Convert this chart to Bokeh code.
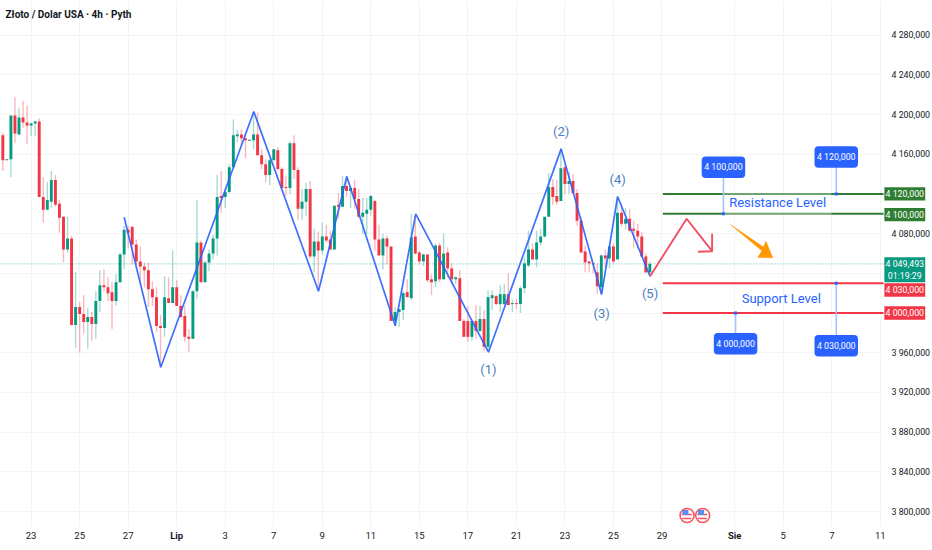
from bokeh.plotting import figure
from bokeh.models import FixedTicker, Label, Range1d, LinearAxis
from bokeh.core.properties import value
from bokeh.embed import file_html
from bokeh.resources import INLINE
import numpy as np

FONT = "Roboto"
BLUE = "#2962ff"; RED = "#f23645"; TEAL = "#089981"; DGREEN = "#2e7d32"; TXT = "#131722"; WAVE = "#4a80c4"

opens = [4179,4154,4155,4199,4180,4197,4192,4189,4191,4193,
 4117,4104,4112,4134,4110,4097,4064,4075,3988,4006,
 3999,3991,3996,3989,4012,4028,4026,4021,4012,4031,
 4059,4084,4087,4069,4052,4047,4043,4024,4016,3987,
 3985,4015,4010,4026,4007,3997,3976,3974,4022,4071,
 4031,4051,4060,4075,4118,4117,4122,4147,4178,4180,
 4176,4173.5,4174,4180,4159,4150,4139,4154,4164,4145,
 4127,4126,4171,4144,4105,4112,4125,4057,4072,4063,
 4077,4074,4064,4109,4107,4128,4123,4126,4115,4097,
 4100,4104,4113,4074,4058,4075,4067,3992,4001,4003,
 4021,4015,4077,4061,4052,4059,4034,4032,4068,4034,
 4061,4045,4034,4035,3992,3992,3976,3992,3982,3994,
 3966,4015,4017,4009,4009,4019,4009,4010,4009,4025,
 4048,4064,4054,4071,4077,4097,4127,4118,4113,4147,
 4130,4133,4121,4093,4062,4052,4050,4041,4026,4058,
 4055,4067,4054,4101,4090,4095,4085,4083,4077,4057,
 4041]
closes = [4154,4155,4199,4181,4197,4192,4189,4191,4193,4117,
 4104,4114,4134,4109,4096,4064,4075,3988,4006,3999,
 3991,3996,3989,4012,4028,4026,4020,4012,4031,4059,
 4084,4081,4069,4052,4047,4043,4024,4016,3987,3985,
 4016,4010,4026,4007,3996,3976,3974,4022,4071,4031,
 4051,4060,4075,4117,4116,4122,4147,4179,4180,4176,
 4174,4174.5,4180,4159,4150,4139,4154,4165,4145,4126,
 4126,4171,4144,4105,4112,4125,4057,4072,4063,4077,
 4073,4064,4108,4107,4128,4123,4126,4115,4097,4101,
 4104,4118,4074,4058,4075,4067,3992,4001,4004,4020,
 4016,4076,4060,4052,4059,4033,4031,4068,4034,4060,
 4045,4034,4036,3992,3976,3976,3992,3982,3994,3966,
 4016,4018,4009,4019,4019,4008,4010,4009,4025,4050,
 4064,4054,4071,4077,4097,4127,4117,4112,4146,4130,
 4133,4121,4093,4061,4051,4050,4049,4027,4058,4055,
 4067,4052,4101,4090,4095,4083,4083,4077,4057,4041,
 4049.493]
highs = [4182,4155,4199,4218,4206,4214,4209,4192,4194,4196,
 4137,4132,4143,4139,4114,4097,4097,4078,4041,4011,
 4018,4005,4001,4022,4043,4044,4036,4031,4039,4061,
 4088,4088,4087,4074,4067,4051,4051,4032,4026,3998,
 4037,4036,4063,4033,4018,4007,3984,4023,4114,4073,
 4053,4064,4079,4139,4143,4126,4150,4195,4185,4185,
 4180,4174.5,4202,4202,4165,4155,4157,4165,4167,4147,
 4138,4173,4179,4147,4125,4131,4133,4085,4082,4091,
 4089,4083,4108,4121,4138,4138,4128,4134,4125,4116,
 4116,4119,4114,4089,4080,4078,4067,4006,4004,4022,
 4034,4100,4098,4063,4060,4059,4039,4070,4071,4080,
 4066,4050,4037,4043,3994,4007,3992,4008,4007,4003,
 4023,4023,4018,4028,4029,4040,4014,4014,4027,4056,
 4083,4070,4083,4085,4097,4141,4135,4134,4166,4149,
 4142,4140,4125,4097,4068,4052,4051,4050,4059,4064,
 4068,4070,4117,4110,4106,4105,4093,4090,4082,4060,
 4052]
lows = [4143,4154,4137,4171,4180,4187,4170,4178,4178,4117,
 4091,4104,4106,4107,4081,4051,4061,3988,3965,3960,
 3979,3964,3972,3974,4001,4022,4012,3984,4007,4031,
 4044,4065,4049,4049,4031,4026,4006,4007,3981,3945,
 3976,4010,4010,4007,3995,3971,3961,3974,4014,4031,
 4031,4042,4054,4058,4101,4106,4121,4147,4172,4169,
 4156,4173.5,4165,4159,4145,4132,4129,4154,4143,4126,
 4118,4120,4135,4094,4094,4098,4055,4041,4022,4059,
 4071,4064,4064,4095,4107,4117,4106,4105,4096,4080,
 4080,4098,4063,4058,4044,4049,3992,3987,3986,3993,
 4016,4013,4059,4049,4047,4031,4018,4026,4031,4034,
 4036,4029,4029,3992,3976,3971,3972,3974,3981,3962,
 3961,4003,4008,4001,4008,4008,4001,4004,4000,4020,
 4046,4054,4046,4068,4076,4097,4109,4109,4113,4120,
 4120,4120,4088,4061,4041,4041,4040,4019,4019,4045,
 4045,4050,4054,4087,4084,4082,4066,4065,4056,4040,
 4037]

time_ticks = [8,20,32,56,68,80,92,104,116,128,140,152,164,194,206,218]
time_labels = ["23","25","27","3","7","9","11","15","17","21","23","25","29","5","7","11"]
month_ticks = [44,182]
month_labels = ["Lip","Sie"]
price_ticks = list(range(3800,4281,40))
hidden_price_ticks = [4120,4040,4000]

zig_x = [31,40.06,63.06,79.06,86.06,98.03,103.1,121.1,139.07,149.07,153.03,161.05]
zig_y = [4096.5,3945.4,4203,4022,4137.5,3987.1,4100,3960.5,4165.4,4018.6,4117.4,4037]
proj_x = [161.05,170.1,176.4]
proj_y = [4037,4095,4062.3]
head_x = [176.4,176.4,172.9]
head_y = [4079.8,4062.3,4061.7]
arrow_x = [181,189.1,189.7,191.4,187.7,188.7]
arrow_y = [4089,4066.4,4072.4,4055.6,4056,4062.7]
wave_n = [121.1,139.07,149.07,153.03,161.05]
wave_p = [3942.8,4182.9,3999.8,4134.2,4019.3]
wave_t = ["(1)","(2)","(3)","(4)","(5)"]

n = np.arange(1,len(opens)+1)
o,h,l,c = map(np.array,(opens,highs,lows,closes))
col = np.where(c>=o,TEAL,RED).tolist()

X0, X_SCALE_END, X1 = 0.424, 218.8, 230.9
Y0, Y1 = 3784.9, 4314.9

p = figure(frame_width=932,frame_height=526,output_backend="svg",toolbar_location=None,
           x_range=Range1d(X0,X1),y_range=Range1d(Y0,Y1),
           y_axis_location="right",min_border_left=0,min_border_top=0,
           min_border_right=0,min_border_bottom=0,outline_line_color=None,
           background_fill_color="white",border_fill_color="white")
p.grid.grid_line_color="#f3f4f6"; p.grid.grid_line_width=1
p.xaxis.ticker=FixedTicker(ticks=time_ticks+month_ticks)
p.xaxis.major_label_overrides={**dict(zip(time_ticks,time_labels)),**{t:"" for t in month_ticks}}
p.yaxis.ticker=FixedTicker(ticks=price_ticks)
def fmt(v):
    return f"{v//1000} {v%1000:03d},000"
p.yaxis.major_label_overrides={v:("" if v in hidden_price_ticks else fmt(v)) for v in price_ticks}
for ax in (p.xaxis[0],p.yaxis[0]):
    ax.axis_line_color=None; ax.major_tick_line_color=None; ax.minor_tick_line_color=None
    ax.major_tick_in=0; ax.major_tick_out=0; ax.minor_tick_in=0; ax.minor_tick_out=0
    ax.major_label_text_font=FONT; ax.major_label_text_font_size="9.5px"; ax.major_label_text_color=TXT
p.yaxis[0].major_label_text_font_size="8.8px"
p.yaxis.major_label_standoff=-41
p.xaxis.major_label_standoff=5

# month labels: a second time axis in bold, overlaid on the first
month_axis = LinearAxis(ticker=FixedTicker(ticks=month_ticks),
                        major_label_overrides=dict(zip(month_ticks,month_labels)),
                        axis_line_color=None,major_tick_line_color=None,minor_tick_line_color=None,
                        major_tick_in=0,major_tick_out=0,minor_tick_in=0,minor_tick_out=0,
                        major_label_text_font=FONT,major_label_text_font_size="9.5px",
                        major_label_text_color=TXT,major_label_text_font_style="bold",
                        major_label_standoff=-12)
p.add_layout(month_axis,"below")

# blank price-scale strip over the grid
p.quad(left=[X_SCALE_END],right=[X1],bottom=[Y0],top=[Y1],fill_color="white",line_color=None)

p.segment(n,l,n,h,line_color=col,line_alpha=0.35,line_width=1.4)
p.vbar(n,0.72,np.minimum(o,c),np.maximum(np.maximum(o,c),np.minimum(o,c)+0.8),fill_color=col,line_color=None)
p.segment([X0],[closes[-1]],[X_SCALE_END],[closes[-1]],line_color=TEAL,line_dash="1 2",line_width=1,line_alpha=0.7)

p.line(zig_x,zig_y,line_color=BLUE,line_width=1.7,line_alpha=0.9)
p.line(proj_x,proj_y,line_color="#f0505f",line_width=1.9)
p.line(head_x,head_y,line_color="#f0505f",line_width=1.9)
p.patch(arrow_x,arrow_y,fill_color="#ff9800",line_color="#ff9800",line_width=0.5)

lv_x0 = 164.2
for lv,cc in ((4120,DGREEN),(4100,DGREEN),(4030,RED),(4000,RED)):
    p.segment([lv_x0],[lv],[X_SCALE_END],[lv],line_color=cc,line_width=2)
p.quad(left=[179.2],right=[205.9],bottom=[4098],top=[4121.6],fill_color="white",fill_alpha=0.3,line_color=None)

stem_n=[179.2,207.1,182.2,207.1]; stem_lv=[4100,4120,4000,4030]; box_p=[4146.9,4157.2,3969.1,3967]
stem_t=["4 100,000","4 120,000","4 000,000","4 030,000"]
p.segment(stem_n,stem_lv,stem_n,box_p,line_color="#a9c1ff",line_width=1.6)
p.scatter(stem_n,stem_lv,size=3,marker="square",fill_color=BLUE,line_color=None)
p.rect(stem_n,box_p,width=43.5,height=21.5,width_units="screen",height_units="screen",
       fill_color=BLUE,line_color=None,border_radius=4)
p.text(stem_n,box_p,text=stem_t,text_color="white",text_font=value(FONT),text_font_size="8.8px",
       text_align="center",text_baseline="middle")

p.text(wave_n,wave_p,text=wave_t,text_color=WAVE,text_font=value(FONT),text_font_size="13px",
       text_align="center",text_baseline="middle")
p.text([192.6,193.5],[4111.6,4014.3],text=["Resistance Level","Support Level"],text_color=BLUE,
       text_font=value(FONT),text_font_size="13px",text_align="center",text_baseline="middle")

# US flag event markers
ev_n=[170.2,174.07]; ev_p=[3796,3796]
p.scatter(ev_n,ev_p,size=14,marker="circle",fill_color="white",line_color="#f7525f",line_width=1.5)
p.rect([x-0.1 for x in ev_n],[3793,3793],width=9,height=1.5,width_units="screen",height_units="screen",fill_color="#f7525f",line_color=None)
p.rect([x-0.1 for x in ev_n],[3797,3797],width=10,height=1.5,width_units="screen",height_units="screen",fill_color="#f7525f",line_color=None)
p.rect([x-0.4 for x in ev_n],[3799,3799],width=6,height=5,width_units="screen",height_units="screen",fill_color="#5b8def",line_color=None)

# price-scale tags
tag_p=[4120,4099.2,4023.2,4000]; tag_t=["4 120,000","4 100,000","4 030,000","4 000,000"]; tag_c=[DGREEN,DGREEN,RED,RED]
tag_l, tag_r, tag_m = 219, 229.1, 224.05
p.quad(left=[tag_l]*4,right=[tag_r]*4,bottom=[v-6.7 for v in tag_p],top=[v+6.7 for v in tag_p],fill_color=tag_c,line_color=None)
p.quad(left=[tag_l],right=[tag_r],bottom=[4031],top=[4056.2],fill_color=TEAL,line_color=None)
p.text([tag_m]*6,tag_p+[4049.6,4037.8],text=tag_t+["4 049,493","01:19:29"],text_color="white",
       text_font=value(FONT),text_font_size="8.8px",text_align="center",text_baseline="middle")

p.add_layout(Label(x=1.66,y=4300.8,text="Złoto / Dolar USA · 4h · Pyth",text_color=TXT,text_font=FONT,
                   text_font_size="10px",text_font_style="bold",text_align="left",text_baseline="middle"))

open("out.html","w").write(file_html(p,INLINE))
